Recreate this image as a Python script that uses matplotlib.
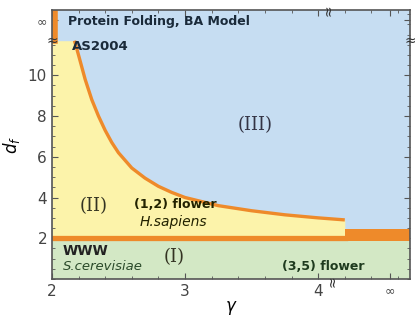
import numpy as np
import matplotlib
matplotlib.use('Agg')
import matplotlib.pyplot as plt
from matplotlib.ticker import MultipleLocator

# phase boundary between (II) and (III)
gamma_curve = [2.17, 2.2, 2.25, 2.3, 2.35, 2.4, 2.45, 2.5, 2.6, 2.7, 2.8, 2.9, 3.0,
               3.25, 3.5, 3.75, 4.0, 4.2]
df_curve = [11.7, 11.0, 9.8, 8.8, 8.0, 7.3, 6.7, 6.2, 5.45, 4.95, 4.55, 4.25, 4.0,
            3.6, 3.35, 3.15, 3.0, 2.9]

d_low = 2.0          # boundary (I)/(II)
gamma_step = 4.2     # end of region (II)
gamma_inf = 4.54     # position of gamma = infinity
df_inf = 12.7        # position of d_f = infinity
df_break = 11.7

x_ticks = [2, 3, 4, gamma_inf]
x_labels = ['2', '3', '4', '∞']
y_ticks = [2, 4, 6, 8, 10, df_inf]
y_labels = ['2', '4', '6', '8', '10', '∞']

blue = '#c6ddf2'
yellow = '#fcf3aa'
green = '#d3e8c5'
orange = '#ee8a2a'

fig = plt.figure(figsize=(4.15, 3.17), dpi=100)
ax = fig.add_axes([0.125, 0.12, 0.863, 0.848])
xmin, xmax, ymin, ymax = 2, 4.69, 0, 13.2
ax.set_xlim(xmin, xmax)
ax.set_ylim(ymin, ymax)
ax.set_facecolor(blue)

# region (I)
ax.fill_between([xmin, xmax], ymin, d_low, color=green, lw=0, zorder=1)
# region (II)
gx = [xmin] + gamma_curve
gy = [df_break] + df_curve
ax.fill_between(gx, d_low, gy, color=yellow, lw=0, zorder=1)

# orange boundaries
ax.plot(gamma_curve, df_curve, color=orange, lw=2.4, solid_capstyle='butt', zorder=2)
ax.plot([xmin, gamma_step], [d_low, d_low], color=orange, lw=3.8, zorder=2)
ax.fill_between([gamma_step, xmax], d_low - 0.12, d_low + 0.45, color=orange, lw=0, zorder=2)
ax.plot([xmin + 0.02, xmin + 0.02], [df_break, ymax], color=orange, lw=4, zorder=2)

ax.set_xticks(x_ticks)
ax.set_xticklabels(x_labels)
ax.set_yticks(y_ticks)
ax.set_yticklabels(y_labels)
ax.xaxis.set_minor_locator(MultipleLocator(0.2))
ax.yaxis.set_minor_locator(MultipleLocator(0.5))
ax.tick_params(which='both', direction='in', top=True, right=True,
               colors='#555555', labelsize=11, labelcolor='#444444')
ax.tick_params(which='major', length=4)
ax.tick_params(which='minor', length=2)
for lab in ax.get_xticklabels()[-1:] + ax.get_yticklabels()[-1:]:
    lab.set_fontsize(9)
for s in ax.spines.values():
    s.set_color('#555555')
    s.set_linewidth(1.2)

ax.set_xlabel(r'$\gamma$', fontsize=12, labelpad=0)
ax.set_ylabel(r'$d_f$', fontsize=12, labelpad=4)

ax.text(2.12, 12.65, 'Protein Folding, BA Model', fontsize=9, fontweight='bold',
        color='#1a2a3a', va='center', zorder=4)
ax.text(2.15, 11.4, 'AS2004', fontsize=9.5, fontweight='bold', color='#1a2a3a',
        va='center', zorder=4)
ax.text(3.53, 7.55, '(III)', fontsize=13, family='serif', color='#333344',
        ha='center', va='center')
ax.text(2.31, 3.6, '(II)', fontsize=13, family='serif', color='#333322',
        ha='center', va='center')
ax.text(2.92, 1.05, '(I)', fontsize=13, family='serif', color='#333322',
        ha='center', va='center')
ax.text(2.62, 3.65, '(1,2) flower', fontsize=9, fontweight='bold', color='#222200',
        va='center', zorder=4)
ax.text(2.66, 2.8, 'H.sapiens', fontsize=10, style='italic', color='#222200',
        va='center', zorder=4)
ax.text(2.08, 1.38, 'WWW', fontsize=10, fontweight='bold', color='#222222', va='center')
ax.text(2.08, 0.62, 'S.cerevisiae', fontsize=9.5, style='italic', color='#2a4a2a',
        va='center')
ax.text(3.73, 0.6, '(3,5) flower', fontsize=9, fontweight='bold', color='#1e3a1e',
        va='center')

# axis break marks
brk = dict(fontsize=10, color='#333333', ha='center', va='center', zorder=5,
           clip_on=False)
ax.text(4.08, ymax, '≈', rotation=90, **brk)
ax.text(4.11, ymin - 0.1, '≈', rotation=90, **brk)
ax.text(xmin, df_break, '≈', **brk)
ax.text(xmax, df_break, '≈', **brk)

fig.savefig('out.png', dpi=100)
